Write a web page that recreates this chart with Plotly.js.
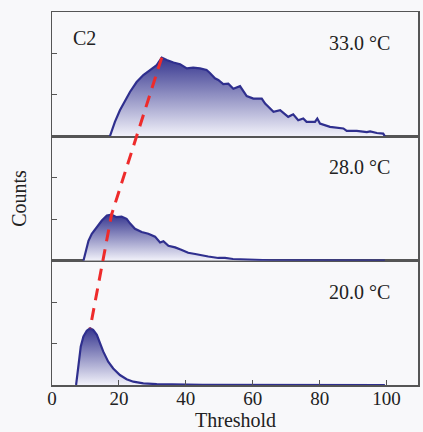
<!DOCTYPE html>
<html>
<head>
<meta charset="utf-8">
<script src="https://cdn.plot.ly/plotly-3.0.1.min.js"></script>
<style>html,body{margin:0;padding:0;background:#f8f8fa;}#chart{width:423px;height:432px;}</style>
</head>
<body>
<div id="chart"></div>
<script>
// Panel labels (top to bottom)
var tempLabels = ["33.0 °C", "28.0 °C", "20.0 °C"];
var panelTag = "C2";
var xTitle = "Threshold";
var yTitle = "Counts";
var xTicks = [0, 20, 40, 60, 80, 100];

// 33.0 °C (top panel)
var x33 = [17.3, 18.8, 20.3, 21.8, 23.3, 25.3, 27.3, 29.3, 31.3, 32.8, 34.3, 36.3, 38.3, 40.3, 42.2, 44.2, 46.2, 47.2, 48.7, 49.7, 51.2, 52.7, 54.2, 56.2, 58.2, 60.2, 62.7, 63.7, 66.2, 68.2, 70.6, 72.1, 73.6, 75.1, 76.1, 78.6, 79.3, 80.1, 83.1, 87.1, 88.1, 91.1, 94.1, 95.1, 97.1, 99.0, 99.5];
var y33 = [0, 0.35, 0.63, 0.87, 1.07, 1.31, 1.48, 1.60, 1.72, 1.90, 1.84, 1.78, 1.74, 1.64, 1.66, 1.64, 1.60, 1.53, 1.40, 1.36, 1.26, 1.27, 1.15, 1.21, 0.97, 0.91, 0.91, 0.79, 0.59, 0.63, 0.47, 0.53, 0.39, 0.43, 0.35, 0.35, 0.43, 0.31, 0.23, 0.19, 0.13, 0.13, 0.10, 0.12, 0.08, 0.065, 0];

// 28.0 °C (middle panel)
var x28 = [9.4, 10.9, 11.9, 13.4, 14.9, 16.4, 17.8, 19.3, 20.8, 22.3, 23.3, 24.8, 26.8, 28.8, 30.8, 32.3, 33.3, 34.8, 36.8, 38.8, 40.7, 42.8, 44.8, 46.7, 49.7, 51.7, 54.1, 59.2, 65.2, 74.1, 99.5];
var y28 = [0, 0.48, 0.65, 0.81, 0.97, 1.09, 1.11, 1.05, 1.06, 1.01, 0.90, 0.77, 0.69, 0.65, 0.58, 0.44, 0.47, 0.36, 0.32, 0.26, 0.19, 0.16, 0.12, 0.10, 0.065, 0.065, 0.04, 0.02, 0.01, 0.005, 0];

// 20.0 °C (bottom panel)
var x20 = [7.2, 7.9, 8.6, 9.4, 10.4, 11.4, 12.3, 13.4, 14.3, 15.3, 16.8, 18.3, 20.3, 22.3, 24.3, 27.3, 31.3, 45.0, 99.5];
var y20 = [0, 0.52, 0.93, 1.17, 1.31, 1.37, 1.33, 1.21, 1.01, 0.81, 0.56, 0.40, 0.24, 0.14, 0.08, 0.04, 0.02, 0.005, 0];

var panelRange = 3;
var series = [
  {x: x20, y: y20, xa: "x",  ya: "y"},
  {x: x28, y: y28, xa: "x2", ya: "y2"},
  {x: x33, y: y33, xa: "x3", ya: "y3"}
];

var lineColor = "#2f2f8e";
var traces = series.map(function (s) {
  return {
    type: "scatter", mode: "lines", x: s.x, y: s.y, xaxis: s.xa, yaxis: s.ya,
    line: {color: lineColor, width: 2.2},
    fill: "tozeroy",
    fillgradient: {type: "vertical", colorscale: [[0, "rgba(242,242,250,1)"], [1, "#36368f"]]},
    hoverinfo: "skip", showlegend: false
  };
});

// peak trend line through the maxima of each panel
var px = [], py = [];
series.slice().reverse().forEach(function (s, i) {
  var k = 2 - i;
  var m = 0;
  for (var j = 1; j < s.y.length; j++) if (s.y[j] > s.y[m]) m = j;
  px.push(s.x[m]);
  py.push(k * panelRange + s.y[m]);
});
traces.push({
  type: "scatter", mode: "lines", x: px, y: py, xaxis: "x4", yaxis: "y4",
  line: {color: "#ee2b2b", width: 3, dash: "12px,8px"},
  hoverinfo: "skip", showlegend: false
});

var frame = "#555555";
var ff = "Liberation Serif, Times New Roman, serif";
var tf = {family: ff, size: 19, color: "#222"};
function yax(dom, anchor) {
  return {
    domain: dom, range: [0, panelRange], tickvals: [1, 2], ticks: "inside", ticklen: 5,
    tickcolor: frame, showticklabels: false, showgrid: false, zeroline: false,
    showline: true, mirror: true, linecolor: frame, linewidth: 1.5, anchor: anchor, fixedrange: true
  };
}
function xax(anchor, showTicks) {
  var a = {
    domain: [0, 1], range: [0, 109.4], showgrid: false, zeroline: false,
    showline: true, mirror: true, linecolor: frame, linewidth: 1.5, anchor: anchor, fixedrange: true
  };
  if (showTicks) {
    a.tickvals = xTicks; a.ticks = "inside"; a.ticklen = 5; a.tickcolor = frame; a.tickfont = tf;
    a.ticklabelstandoff = -4;
  } else {
    a.matches = "x"; a.showticklabels = false; a.ticks = "";
  }
  return a;
}
var y2 = yax([1/3, 2/3], "x2");
y2.title = {text: yTitle, font: {family: ff, size: 20, color: "#222"}, standoff: 18};
var xa = xax("y", true);

var annotations = [];
var axNames = ["y3", "y2", "y"];
tempLabels.forEach(function (t, i) {
  annotations.push({
    text: t, xref: "x domain", yref: axNames[i] + " domain", x: 0.93, y: 0.75,
    xanchor: "right", yanchor: "middle", showarrow: false,
    font: {family: ff, size: 20, color: "#222"}
  });
});
annotations.push({
  text: panelTag, xref: "x domain", yref: "y3 domain", x: 0.052, y: 0.79,
  xanchor: "left", yanchor: "middle", showarrow: false,
  font: {family: ff, size: 20, color: "#222"}
});
annotations.push({
  text: xTitle, xref: "x domain", yref: "paper", x: 0.5, y: 0,
  xanchor: "center", yanchor: "top", yshift: -22, showarrow: false,
  font: {family: ff, size: 20, color: "#222"}
});

var layout = {
  width: 423, height: 432,
  margin: {l: 52, r: 5, t: 12, b: 47},
  paper_bgcolor: "#f8f8fa", plot_bgcolor: "rgba(0,0,0,0)",
  showlegend: false,
  xaxis: xa,
  xaxis2: xax("y2", false),
  xaxis3: xax("y3", false),
  xaxis4: {domain: [0, 1], matches: "x", visible: false, anchor: "y4", fixedrange: true},
  yaxis: yax([0, 1/3], "x"),
  yaxis2: y2,
  yaxis3: yax([2/3, 1], "x3"),
  yaxis4: {domain: [0, 1], range: [0, 3 * panelRange], visible: false, anchor: "x4", fixedrange: true},
  annotations: annotations
};

Plotly.newPlot("chart", traces, layout, {displayModeBar: false, staticPlot: true});
</script>
</body>
</html>
